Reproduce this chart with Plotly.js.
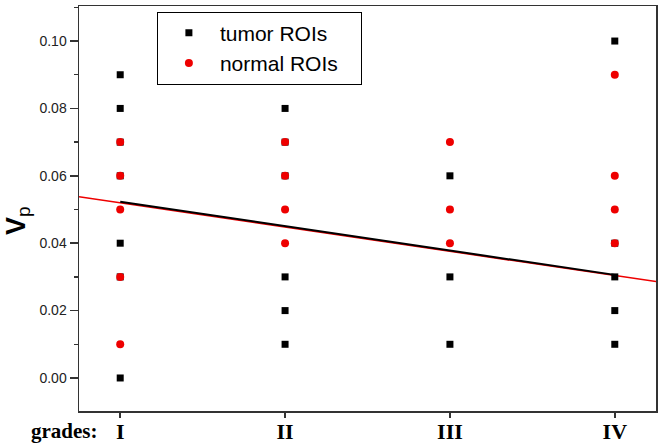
<!DOCTYPE html>
<html>
<head>
<meta charset="utf-8">
<script src="https://cdn.plot.ly/plotly-3.0.1.min.js"></script>
<style>html,body{margin:0;padding:0;background:#fff;}#chart{width:664px;height:447px;}</style>
</head>
<body>
<div id="chart"></div>
<script>
// grade positions and labels
const gradeVals = [1, 2, 3, 4];
const gradeLabels = ['I', 'II', 'III', 'IV'];

// tumor ROIs (black squares)
const tumorX = [1,1,1,1,1,1,1, 2,2,2,2,2,2, 3,3,3, 4,4,4,4,4];
const tumorY = [0.09,0.08,0.07,0.06,0.04,0.03,0.00, 0.08,0.07,0.06,0.03,0.02,0.01, 0.06,0.03,0.01, 0.10,0.04,0.03,0.02,0.01];

// normal ROIs (red circles)
const normalX = [1,1,1,1,1, 2,2,2,2, 3,3,3, 4,4,4,4];
const normalY = [0.07,0.06,0.05,0.03,0.01, 0.07,0.06,0.05,0.04, 0.07,0.05,0.04, 0.09,0.06,0.05,0.04];

// linear fit line: full extent (red) and data span (black)
const fitFullX = [0.75, 4.25];
const fitFullY = [0.0538, 0.0286];
const fitSpanX = [1, 4];
const fitSpanY = [0.0523, 0.0306];

const red = '#ee0000';
const nb = '\u00a0';

const traces = [
  {x: fitFullX, y: fitFullY, mode: 'lines', line: {color: red, width: 1.5}, showlegend: false, hoverinfo: 'skip'},
  {x: fitSpanX, y: fitSpanY, mode: 'lines', line: {color: '#000', width: 2}, showlegend: false, hoverinfo: 'skip'},
  {x: tumorX, y: tumorY, mode: 'markers', name: 'tumor ROIs',
   marker: {symbol: 'square', size: 7, color: '#000'}},
  {x: normalX, y: normalY, mode: 'markers', name: 'normal ROIs' + nb + nb + nb,
   marker: {symbol: 'circle', size: 8, color: red}}
];

const layout = {
  width: 664, height: 447,
  margin: {l: 79, r: 8, t: 6, b: 36},
  paper_bgcolor: '#fff', plot_bgcolor: '#fff',
  showlegend: true,
  legend: {
    x: 0.135, y: 0.986, xanchor: 'left', yanchor: 'top',
    bordercolor: '#000', borderwidth: 1, bgcolor: '#fff',
    font: {family: 'Liberation Sans, Arial, sans-serif', size: 21, color: '#000'},
    itemwidth: 52
  },
  xaxis: {
    range: [0.75, 4.25],
    tickmode: 'array', tickvals: gradeVals, ticktext: gradeLabels,
    ticks: 'outside', ticklen: 5, tickwidth: 1.5, tickcolor: '#333',
    ticklabelstandoff: -5,
    showline: true, linecolor: '#333', linewidth: 1.5, mirror: true,
    showgrid: false, zeroline: false,
    tickfont: {family: 'Liberation Serif, Times New Roman, serif', size: 22, color: '#000', weight: 'bold'}
  },
  yaxis: {
    range: [-0.0098, 0.1104],
    tickmode: 'linear', tick0: 0, dtick: 0.02, tickformat: '.2f',
    ticks: 'outside', ticklen: 8, tickwidth: 1.5, tickcolor: '#333',
    minor: {dtick: 0.01, ticks: 'outside', ticklen: 4, tickwidth: 1.5, tickcolor: '#333', showgrid: false},
    showline: true, linecolor: '#333', linewidth: 1.5, mirror: true,
    showgrid: false, zeroline: false,
    tickfont: {family: 'Liberation Sans, Arial, sans-serif', size: 14, color: '#222'}
  },
  annotations: [
    {text: 'V<sub><span style="font-weight:normal">p</span></sub>', xref: 'paper', yref: 'paper', x: -0.107, y: 0.47,
     xanchor: 'center', yanchor: 'middle', textangle: -90, showarrow: false,
     font: {family: 'Liberation Sans, Arial, sans-serif', size: 27, color: '#000', weight: 'bold'}},
    {text: 'grades:', xref: 'paper', yref: 'paper', x: -0.087, y: -0.05,
     xanchor: 'left', yanchor: 'middle', showarrow: false,
     font: {family: 'Liberation Serif, Times New Roman, serif', size: 21, color: '#000', weight: 'bold'}}
  ]
};

Plotly.newPlot('chart', traces, layout, {displayModeBar: false, staticPlot: true});
</script>
</body>
</html>
